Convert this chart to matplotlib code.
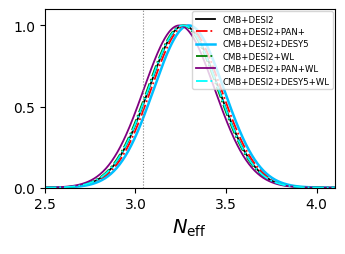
import numpy as np
import matplotlib
matplotlib.use('Agg')
import matplotlib.pyplot as plt

# Posterior summaries (peak position, width)
labels = ['CMB+DESI2', 'CMB+DESI2+PAN+', 'CMB+DESI2+DESY5', 'CMB+DESI2+WL',
          'CMB+DESI2+PAN+WL', 'CMB+DESI2+DESY5+WL']
peaks = [3.267, 3.28, 3.295, 3.26, 3.242, 3.265]
widths = [0.194, 0.194, 0.194, 0.194, 0.196, 0.194]
colors = ['black', 'red', 'deepskyblue', 'green', 'purple', 'cyan']
styles = ['-', '-.', '-', '-.', '-', '-.']
neff_ref = 3.044

x = np.linspace(2.5, 4.1, 400)

fig, ax = plt.subplots(figsize=(3.45, 2.55), dpi=100)

for lab, mu, sig, c, ls in zip(labels, peaks, widths, colors, styles):
    y = np.exp(-0.5 * ((x - mu) / sig) ** 2)
    lw = 1.8 if c == 'deepskyblue' else 1.3
    ax.plot(x, y, color=c, ls=ls, lw=lw, label=lab)

ax.axvline(neff_ref, color='gray', ls=':', lw=0.8)

ax.set_xlim(2.5, 4.1)
ax.set_ylim(0, 1.1)
ax.set_xticks([2.5, 3.0, 3.5, 4.0])
ax.set_yticks([0.0, 0.5, 1.0])
ax.tick_params(labelsize=10)
ax.set_xlabel(r'$N_{\rm eff}$', fontsize=14)
ax.legend(loc='upper right', fontsize=6.1, handlelength=2.3,
          borderaxespad=0.25, labelspacing=0.4)

plt.subplots_adjust(left=0.13, right=0.97, bottom=0.26, top=0.96)
plt.savefig('out.png', dpi=100)
